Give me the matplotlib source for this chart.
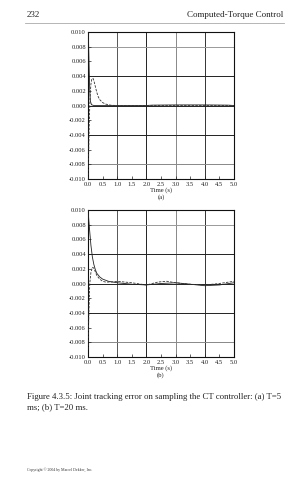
import matplotlib
matplotlib.use("Agg")
import matplotlib.pyplot as plt

plt.rcParams['font.family'] = ['Liberation Serif', 'DejaVu Serif']

# ---- data ----
x_ticks = [0.0, 0.5, 1.0, 1.5, 2.0, 2.5, 3.0, 3.5, 4.0, 4.5, 5.0]
x_tick_labels = ["0.0", "0.5", "1.0", "1.5", "2.0", "2.5", "3.0", "3.5", "4.0", "4.5", "5.0"]
y_ticks = [-0.010, -0.008, -0.006, -0.004, -0.002, 0.0, 0.002, 0.004, 0.006, 0.008, 0.010]
y_tick_labels = ["-0.010", "-0.008", "-0.006", "-0.004", "-0.002", "0.000",
                 "0.002", "0.004", "0.006", "0.008", "0.010"]

# (a) T = 5 ms
t_a1 = [0.0, 0.02, 0.04, 0.06, 0.08, 0.12, 0.2, 1.0, 2.0, 2.2, 3.0, 4.0, 4.8, 5.0]
e_a1 = [0.010, 0.0085, 0.005, 0.002, 0.0006, 0.0001, 0.0, 0.0, 0.0, 0.00005, 0.00008, 0.00008, 0.00005, 0.0]
t_a2 = [0.0, 0.02, 0.04, 0.06, 0.08, 0.1, 0.13, 0.17, 0.2, 0.25, 0.3, 0.35, 0.4,
        0.5, 0.6, 0.7, 0.8, 1.0, 2.0, 3.0, 4.0, 5.0]
e_a2 = [-0.010, -0.007, -0.003, 0.0, 0.0018, 0.0029, 0.0036, 0.0037, 0.0034, 0.0026, 0.0018,
        0.0012, 0.0008, 0.0004, 0.0002, 0.0001, 0.00003, 0.0, 0.0, 0.0, 0.0, 0.0]

# (b) T = 20 ms
t_b1 = [0.0, 0.05, 0.1, 0.15, 0.2, 0.25, 0.3, 0.4, 0.5, 0.7, 1.0, 1.5, 2.0,
        2.5, 3.0, 3.5, 4.0, 4.5, 5.0]
e_b1 = [0.010, 0.0075, 0.0052, 0.0036, 0.0026, 0.0019, 0.0014, 0.0009, 0.0006, 0.0003, 0.0001,
        -0.0001, -0.0002, 0.0, 0.0001, -0.0001, -0.0003, -0.0002, 0.0001]
t_b2 = [0.0, 0.03, 0.06, 0.1, 0.15, 0.2, 0.25, 0.3, 0.4, 0.5, 0.6, 0.8, 1.0, 1.5,
        2.0, 2.4, 2.7, 3.0, 3.5, 4.0, 4.5, 5.0]
e_b2 = [-0.009, -0.004, 0.0, 0.0015, 0.0022, 0.0021, 0.0016, 0.0011, 0.0006, 0.0003, 0.0002,
        0.0002, 0.0003, 0.0001, -0.0002, 0.0002, 0.0003, 0.0001, -0.0001, -0.0002, 0.0, 0.0003]

fig = plt.figure(figsize=(3.08, 4.80), dpi=100)
fig.patch.set_facecolor('white')

W, H = 308.0, 480.0

def make_axes(top_px, bot_px, t1, e1, t2, e2, label):
    left, right = 88, 234
    ax = fig.add_axes([left / W, 1 - bot_px / H, (right - left) / W, (bot_px - top_px) / H])
    ax.set_xlim(0, 5)
    ax.set_ylim(-0.010, 0.010)
    for xv, c in [(1, '#555555'), (2, '#222222'), (3, '#888888'), (4, '#333333')]:
        ax.axvline(xv, color=c, lw=0.7, zorder=1)
    for yv, c in [(0.008, '#999999'), (0.004, '#222222'), (0.0, '#222222'),
                  (-0.004, '#222222'), (-0.008, '#888888')]:
        ax.axhline(yv, color=c, lw=0.7, zorder=1)
    ax.plot(t1, e1, color='#222222', lw=0.6, zorder=3)
    ax.plot(t2, e2, color='#333333', lw=0.6, ls=(0, (3, 1.5)), zorder=3)
    ax.set_xticks(x_ticks)
    ax.set_xticklabels(x_tick_labels)
    ax.set_yticks(y_ticks)
    ax.set_yticklabels(y_tick_labels)
    ax.tick_params(direction='in', length=2, width=0.5, labelsize=4.7, colors='#222222')
    ax.tick_params(axis='y', pad=1.5)
    ax.tick_params(axis='x', pad=2.4)
    for s in ax.spines.values():
        s.set_linewidth(0.8)
        s.set_color('#111111')
    cx = (left + right) / 2 / W
    fig.text(cx, 1 - (bot_px + 11.5) / H, "Time (s)", ha='center', va='center',
             fontsize=4.8, color='#222222')
    fig.text(cx, 1 - (bot_px + 18) / H, label, ha='center', va='center',
             fontsize=4.8, color='#222222')
    return ax

make_axes(32, 179, t_a1, e_a1, t_a2, e_a2, "(a)")
make_axes(210, 357, t_b1, e_b1, t_b2, e_b2, "(b)")

# page header
fig.text(27 / W, 1 - 15 / H, "232", ha='left', va='center', fontsize=6.5, color='#222222')
fig.text(283 / W, 1 - 15 / H, "Computed-Torque Control", ha='right', va='center',
         fontsize=6.5, color='#222222')
fig.add_artist(plt.Line2D([25 / W, 284 / W], [1 - 23 / H, 1 - 23 / H], color='#aaaaaa', lw=0.6))

# caption
fig.text(27 / W, 1 - 397 / H,
         "Figure 4.3.5: Joint tracking error on sampling the CT controller: (a) T=5",
         ha='left', va='center', fontsize=6.3, color='#222222')
fig.text(27 / W, 1 - 407 / H, "ms; (b) T=20 ms.", ha='left', va='center',
         fontsize=6.3, color='#222222')
fig.text(27 / W, 1 - 470 / H, "Copyright © 2004 by Marcel Dekker, Inc.", ha='left',
         va='center', fontsize=2.8, color='#333333')

fig.savefig("out.png", dpi=100, facecolor='white')
